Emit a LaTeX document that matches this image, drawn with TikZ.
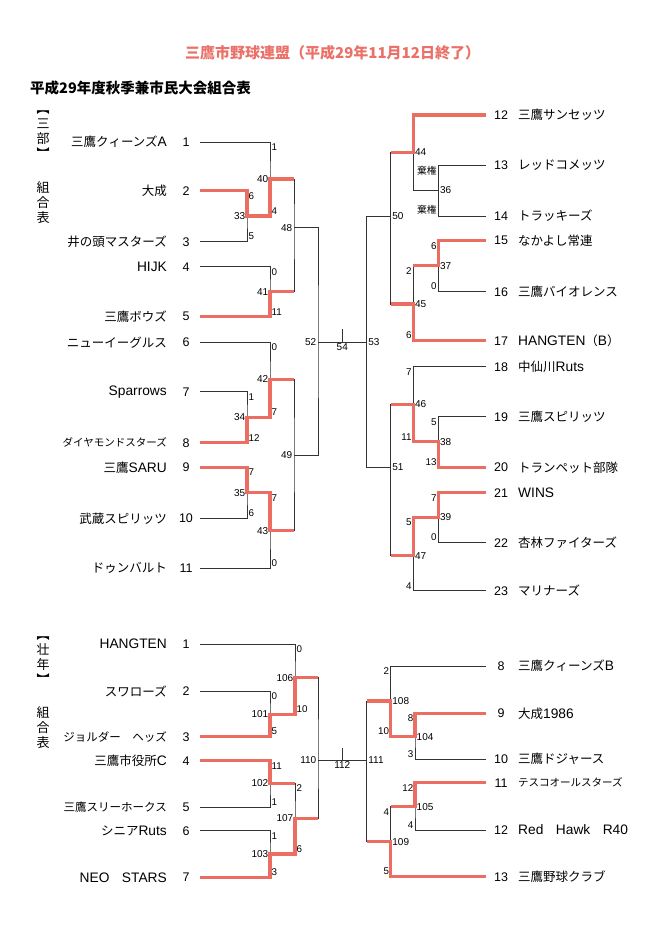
\documentclass[tikz,border=0pt]{standalone}
\usepackage{fontspec}
\setmainfont{Liberation Sans}
\newfontfamily\jp{Noto Sans CJK JP}
\newfontfamily\lat{Liberation Sans}[Scale=1.1]
\newfontfamily\num{Liberation Sans}
\definecolor{winred}{RGB}{236,110,98}
\definecolor{titlered}{RGB}{234,112,104}
\tikzstyle{every node} = [inner sep=0pt]
\tikzstyle{team} = [font=\jp\fontsize{12.5}{13}\selectfont]
\tikzstyle{seed} = [font=\num\fontsize{12.5}{13}\selectfont]
\tikzstyle{score} = [font=\num\fontsize{9.8}{10}\selectfont, inner sep=1.5pt]
\tikzstyle{bout} = [font=\num\fontsize{10}{10}\selectfont, inner sep=1.5pt]
\tikzstyle{side} = [font=\jp\fontsize{13}{15}\selectfont, align=center]
\tikzstyle{lost} = [draw=black!80, line width=0.8pt]
\tikzstyle{won} = [draw=winred, line width=3.5pt, line join=miter]

\begin{document}
\begin{tikzpicture}[x=1pt, y=-1pt]
\useasboundingbox (0,0) rectangle (659,945);

% titles
\node[font=\jp\bfseries\fontsize{15}{15}\selectfont, text=titlered, anchor=west] (title) at (185,53) {三鷹市野球連盟（平成29年11月12日終了）};
\node[font=\jp\bfseries\fontsize{14.5}{15}\selectfont, anchor=west] (subtitle) at (30,88) {平成29年度秋季兼市民大会組合表};
\node[side] (bu1) at (43,135) {︻\\三\\部\\︼};
\node[side] (hyo1) at (43,203) {組\\合\\表};
\node[side] (bu2) at (43,661) {︻\\壮\\年\\︼};
\node[side] (hyo2) at (43,728) {組\\合\\表};

% teams, upper bracket
\foreach \n/\y/\name in {1/142/三鷹クィーンズ{\lat A}, 2/190.7/大成, 3/241.7/井の頭マスターズ,
    4/266.7/{\lat HIJK}, 5/316.7/三鷹ボウズ, 6/342.3/ニューイーグルス, 7/391.7/{\lat Sparrows},
    8/442.7/{\fontsize{10.5}{11}\selectfont ダイヤモンドスターズ}, 9/467.3/三鷹{\lat SARU},
    10/518.3/武蔵スピリッツ, 11/568.3/ドゥンバルト}{
  \node[team, anchor=east] (na\n) at (167,\y) {\name};
  \node[seed] (sa\n) at (186,\y) {\n};
  \coordinate (a\n) at (200,\y);
}
\foreach \n/\y/\name in {12/115/三鷹サンセッツ, 13/165/レッドコメッツ, 14/216/トラッキーズ,
    15/240.7/なかよし常連, 16/291.7/三鷹バイオレンス, 17/340.7/{\lat HANGTEN}（{\lat B}）,
    18/366.7/中仙川{\lat Ruts}, 19/416.7/三鷹スピリッツ, 20/467.3/トランペット部隊,
    21/492.7/{\lat WINS}, 22/542.7/杏林ファイターズ, 23/590.7/マリナーズ}{
  \node[seed] (sa\n) at (501,\y) {\n};
  \node[team, anchor=west] (na\n) at (518,\y) {\name};
  \coordinate (a\n) at (485.7,\y);
}

% teams, lower bracket
\foreach \n/\y/\name in {1/644/{\lat HANGTEN}, 2/691/スワローズ, 3/736.7/{\fontsize{11.5}{12}\selectfont ジョルダー　ヘッズ},
    4/760.7/三鷹市役所{\lat C}, 5/807.3/{\fontsize{11.5}{12}\selectfont 三鷹スリーホークス},
    6/830.7/シニア{\lat Ruts}, 7/877.3/{\lat NEO}　{\lat STARS}}{
  \node[team, anchor=east] (nb\n) at (167,\y) {\name};
  \node[seed] (sb\n) at (186,\y) {\n};
  \coordinate (b\n) at (200,\y);
}
\foreach \n/\y/\name in {8/666/三鷹クィーンズ{\lat B}, 9/713.3/大成{\lat 1986}, 10/759.3/三鷹ドジャース,
    11/782.7/{\fontsize{10.5}{11}\selectfont テスコオールスターズ}, 12/830/{\lat Red}　{\lat Hawk}　{\lat R40},
    13/876.7/三鷹野球クラブ}{
  \node[seed] (sb\n) at (501,\y) {\n};
  \node[team, anchor=west] (nb\n) at (518,\y) {\name};
  \coordinate (b\n) at (485.7,\y);
}

% match points
\foreach \m/\x/\y in {33/247/216, 34/247/417.3, 35/247/492.7, 40/270/179, 41/270/291.7,
    42/270/379.3, 43/270/530.7, 48/294/227.7, 49/294/455, 52/318/342, 54/342.3/342,
    53/366.7/342, 50/390.7/216, 51/390.7/467.3, 44/413.3/152.3, 45/413.3/304,
    46/413.3/404.3, 47/413.3/555.7, 36/438.3/190, 37/438.3/265.7, 38/438.3/441.7,
    39/438.3/517.3, 101/270/714.3, 102/270/783.3, 103/270/854, 106/295/677.7,
    107/295/818.3, 110/318/760, 112/342.3/760, 111/366.7/760, 108/390.7/701,
    109/390.7/841.7, 104/415/736.7, 105/415/806.7}
  \coordinate (m\m) at (\x,\y);
\coordinate (k54) at (342.3,329.3);
\coordinate (k112) at (342.3,748.3);

% lines
\foreach \ua/\m/\ub in {a2/m33/a3, a1/m40/m33, a4/m41/a5, m40/m48/m41, a7/m34/a8, a6/m42/m34,
    a9/m35/a10, m35/m43/a11, m42/m49/m43, m48/m52/m49, a13/m36/a14, a12/m44/m36,
    a15/m37/a16, m37/m45/a17, m44/m50/m45, a19/m38/a20, a18/m46/m38, a21/m39/a22,
    m39/m47/a23, m46/m51/m47, m50/m53/m51, b2/m101/b3, b1/m106/m101, b4/m102/b5,
    b6/m103/b7, m102/m107/m103, m106/m110/m107, b9/m104/b10, b8/m108/m104,
    b11/m105/b12, m105/m109/b13, m108/m111/m109}
  \draw[lost] (\ua) -| (\m) |- (\ub);
\draw[lost] (m52) -- (m53) (m54) -- (k54) (m110) -- (m111) (m112) -- (k112);

% winners
\draw[won] (a2) -| (m33) -| (m40) -- (m40 -| m48);
\draw[won] (a5) -| (m41) -- (m41 -| m48);
\draw[won] (a8) -| (m34) -| (m42) -- (m42 -| m49);
\draw[won] (a9) -| (m35) -| (m43) -- (m43 -| m49);
\draw[won] (a12) -| (m44) -- (m44 -| m50);
\draw[won] (a15) -| (m37) -- (m37 -| m45);
\draw[won] (a17) -| (m45) -- (m45 -| m50);
\draw[won] (a20) -| (m38) -| (m46) -- (m46 -| m51);
\draw[won] (a21) -| (m39) -| (m47) -- (m47 -| m51);
\draw[won] (b3) -| (m101) -| (m106) -- (m106 -| m110);
\draw[won] (b4) -| (m102) -- (m102 -| m107);
\draw[won] (b7) -| (m103) -| (m107) -- (m107 -| m110);
\draw[won] (b9) -| (m104) -| (m108) -- (m108 -| m111);
\draw[won] (b11) -| (m105) -- (m105 -| m109);
\draw[won] (b13) -| (m109) -- (m109 -| m111);

% match numbers and scores
\foreach \m/\ua/\ub/\va/\vb in {33/a2/a3/6/5, 40/a1/m33/1/4, 41/a4/a5/0/11, 34/a7/a8/1/12,
    42/a6/m34/0/7, 35/a9/a10/7/6, 43/m35/a11/7/0, 101/b2/b3/0/5, 106/b1/m101/0/10,
    102/b4/b5/11/1, 103/b6/b7/1/3, 107/m102/m103/2/6}{
  \node[bout, anchor=east] (l\m) at (m\m) {\m};
  \node[score, anchor=north west] (p\m-a) at (m\m |- \ua) {\va};
  \node[score, anchor=south west] (p\m-b) at (m\m |- \ub) {\vb};
}
\foreach \m/\ua/\ub/\va/\vb in {36/a13/a14/{\jp 棄権}/{\jp 棄権}, 37/a15/a16/6/0, 45/m37/a17/2/6,
    38/a19/a20/5/13, 46/a18/m38/7/11, 39/a21/a22/7/0, 47/m39/a23/5/4,
    104/b9/b10/8/3, 108/b8/m104/2/10, 105/b11/b12/12/4, 109/m105/b13/4/5}{
  \node[bout, anchor=west] (l\m) at (m\m) {\m};
  \node[score, anchor=north east] (p\m-a) at (m\m |- \ua) {\va};
  \node[score, anchor=south east] (p\m-b) at (m\m |- \ub) {\vb};
}
\foreach \m in {48,49,52,110}
  \node[bout, anchor=east] (l\m) at (m\m) {\m};
\foreach \m in {44,50,51,53,111}
  \node[bout, anchor=west] (l\m) at (m\m) {\m};
\node[bout, anchor=north] (l54) at (m54) {54};
\node[bout, anchor=north] (l112) at (m112) {112};
\end{tikzpicture}
\end{document}
